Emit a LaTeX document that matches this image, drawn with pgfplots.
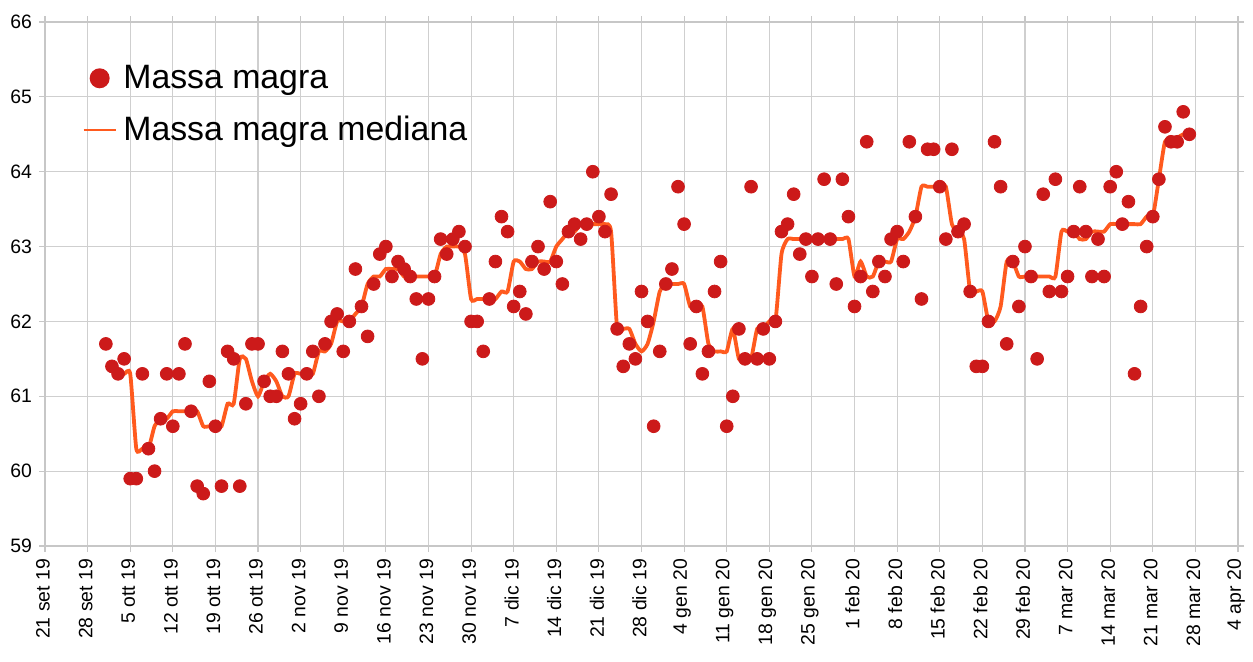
\documentclass[border=0pt]{standalone}
\usepackage{fontspec}
\setmainfont{Liberation Sans}
\usepackage{pgfplots}
\usepackage{pgfplotstable}
\pgfplotsset{compat=1.18}
\definecolor{dotred}{RGB}{204,26,26}
\definecolor{lineor}{RGB}{255,90,30}

\pgfplotstableread{
day val
10 61.7
11 61.4
12 61.3
13 61.5
14 59.9
15 59.9
16 61.3
17 60.3
18 60.0
19 60.7
20 61.3
21 60.6
22 61.3
23 61.7
24 60.8
25 59.8
26 59.7
27 61.2
28 60.6
29 59.8
30 61.6
31 61.5
32 59.8
33 60.9
34 61.7
35 61.7
36 61.2
37 61.0
38 61.0
39 61.6
40 61.3
41 60.7
42 60.9
43 61.3
44 61.6
45 61.0
46 61.7
47 62.0
48 62.1
49 61.6
50 62.0
51 62.7
52 62.2
53 61.8
54 62.5
55 62.9
56 63.0
57 62.6
58 62.8
59 62.7
60 62.6
61 62.3
62 61.5
63 62.3
64 62.6
65 63.1
66 62.9
67 63.1
68 63.2
69 63.0
70 62.0
71 62.0
72 61.6
73 62.3
74 62.8
75 63.4
76 63.2
77 62.2
78 62.4
79 62.1
80 62.8
81 63.0
82 62.7
83 63.6
84 62.8
85 62.5
86 63.2
87 63.3
88 63.1
89 63.3
90 64.0
91 63.4
92 63.2
93 63.7
94 61.9
95 61.4
96 61.7
97 61.5
98 62.4
99 62.0
100 60.6
101 61.6
102 62.5
103 62.7
104 63.8
105 63.3
106 61.7
107 62.2
108 61.3
109 61.6
110 62.4
111 62.8
112 60.6
113 61.0
114 61.9
115 61.5
116 63.8
117 61.5
118 61.9
119 61.5
120 62.0
121 63.2
122 63.3
123 63.7
124 62.9
125 63.1
126 62.6
127 63.1
128 63.9
129 63.1
130 62.5
131 63.9
132 63.4
133 62.2
134 62.6
135 64.4
136 62.4
137 62.8
138 62.6
139 63.1
140 63.2
141 62.8
142 64.4
143 63.4
144 62.3
145 64.3
146 64.3
147 63.8
148 63.1
149 64.3
150 63.2
151 63.3
152 62.4
153 61.4
154 61.4
155 62.0
156 64.4
157 63.8
158 61.7
159 62.8
160 62.2
161 63.0
162 62.6
163 61.5
164 63.7
165 62.4
166 63.9
167 62.4
168 62.6
169 63.2
170 63.8
171 63.2
172 62.6
173 63.1
174 62.6
175 63.8
176 64.0
177 63.3
178 63.6
179 61.3
180 62.2
181 63.0
182 63.4
183 63.9
184 64.6
185 64.4
186 64.4
187 64.8
188 64.5
}\dots

\pgfplotstableread{
day med
11 61.4
12 61.35
13 61.3
14 61.3
15 60.3
16 60.3
17 60.3
18 60.6
19 60.7
20 60.7
21 60.8
22 60.8
23 60.8
24 60.8
25 60.8
26 60.6
27 60.6
28 60.6
29 60.6
30 60.9
31 60.9
32 61.5
33 61.5
34 61.2
35 61.0
36 61.2
37 61.3
38 61.2
39 61.0
40 61.0
41 61.3
42 61.3
43 61.3
44 61.3
45 61.6
46 61.6
47 61.7
48 62.0
49 62.0
50 62.0
51 62.1
52 62.2
53 62.5
54 62.6
55 62.6
56 62.7
57 62.7
58 62.7
59 62.6
60 62.6
61 62.6
62 62.6
63 62.6
64 62.6
65 62.9
66 63.0
67 63.0
68 63.0
69 62.9
70 62.3
71 62.3
72 62.3
73 62.3
74 62.3
75 62.4
76 62.4
77 62.8
78 62.8
79 62.7
80 62.7
81 62.8
82 62.8
83 62.8
84 63.0
85 63.1
86 63.2
87 63.2
88 63.3
89 63.3
90 63.3
91 63.3
92 63.3
93 63.2
94 61.9
95 61.9
96 61.9
97 61.7
98 61.6
99 61.7
100 62.0
101 62.4
102 62.5
103 62.5
104 62.5
105 62.5
106 62.2
107 62.2
108 62.2
109 61.7
110 61.6
111 61.6
112 61.6
113 61.9
114 61.5
115 61.5
116 61.5
117 61.9
118 61.9
119 62.0
120 62.0
121 62.9
122 63.1
123 63.1
124 63.1
125 63.1
126 63.1
127 63.1
128 63.1
129 63.1
130 63.1
131 63.1
132 63.1
133 62.6
134 62.8
135 62.6
136 62.6
137 62.8
138 62.8
139 62.8
140 63.1
141 63.1
142 63.2
143 63.4
144 63.8
145 63.8
146 63.8
147 63.8
148 63.8
149 63.3
150 63.2
151 63.1
152 62.4
153 62.4
154 62.4
155 62.0
156 62.0
157 62.2
158 62.8
159 62.8
160 62.6
161 62.6
162 62.6
163 62.6
164 62.6
165 62.6
166 62.6
167 63.2
168 63.2
169 63.2
170 63.1
171 63.1
172 63.2
173 63.2
174 63.2
175 63.3
176 63.3
177 63.3
178 63.3
179 63.3
180 63.3
181 63.4
182 63.4
183 63.9
184 64.4
185 64.4
186 64.45
187 64.5
188 64.5
}\medians

\begin{document}
\begin{tikzpicture}
\begin{axis}[
  at={(0,0)}, anchor=south west,
  scale only axis, width=596.5pt, height=262pt,
  xmin=0, xmax=196, ymin=59, ymax=66,
  xtick={0,7,...,196},
  xticklabels={21 set 19, 28 set 19, 5 ott 19, 12 ott 19, 19 ott 19, 26 ott 19, 2 nov 19, 9 nov 19, 16 nov 19, 23 nov 19, 30 nov 19, 7 dic 19, 14 dic 19, 21 dic 19, 28 dic 19, 4 gen 20, 11 gen 20, 18 gen 20, 25 gen 20, 1 feb 20, 8 feb 20, 15 feb 20, 22 feb 20, 29 feb 20, 7 mar 20, 14 mar 20, 21 mar 20, 28 mar 20, 4 apr 20},
  ytick={59,60,...,66},
  grid=major,
  grid style={draw=black!19, line width=0.55pt},
  axis line style={draw=black!22, line width=0.55pt},
  tick style={draw=black!22, line width=0.55pt},
  tick align=outside,
  major tick length=3pt,
  /pgf/number format/assume math mode=true,
  ticklabel style={font=\fontsize{9.7}{11}\selectfont},
  xticklabel style={rotate=90, anchor=east, yshift=1pt},
  legend style={at={(0.0315,0.8425)}, anchor=west, draw=none, fill=none,
    inner sep=0pt, row sep=10.5pt, column sep=1.5pt,
    font=\fontsize{16.9}{19}\selectfont,
    nodes={inner xsep=2pt, inner ysep=1pt}},
  legend cell align=left,
  reverse legend,
]
\addplot[lineor, line width=1.9pt, no markers, smooth, tension=0.35,
  legend image code/.code={\draw[lineor, line width=0.7pt] (0pt,0pt) -- (16pt,0pt);}]
  table[x=day, y=med] {\medians};
\addlegendentry{Massa magra mediana}
\addplot[only marks, mark=*, mark size=3.2pt, color=dotred, fill=dotred,
  legend image code/.code={\fill[dotred, draw=none] (8pt,0pt) circle (5pt); \path[draw=none, fill=none] (0pt,0pt) -- (16pt,0pt);}]
  table[x=day, y=val] {\dots};
\addlegendentry{Massa magra}
\end{axis}
\pgfresetboundingbox
\path[use as bounding box] (-22.5pt,-57.5pt) rectangle (604pt,273pt);
\end{tikzpicture}
\end{document}
